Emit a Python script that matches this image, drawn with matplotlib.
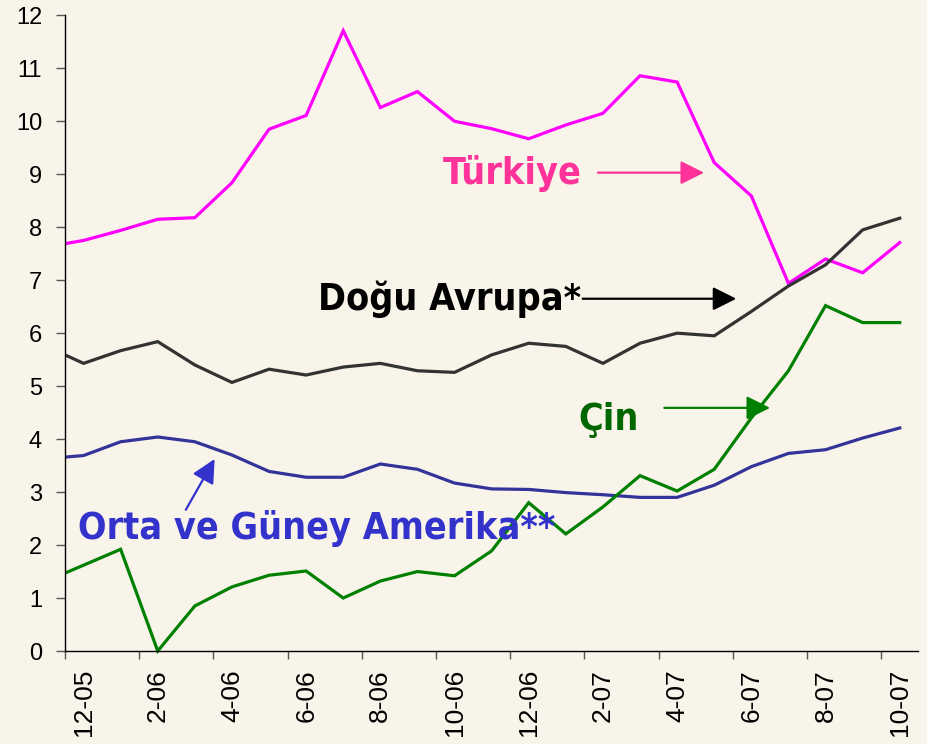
import numpy as np
import matplotlib
matplotlib.use("Agg")
import matplotlib.pyplot as plt
from matplotlib.patches import Rectangle

# monthly values, first entry (11-05) only feeds the clipped segment at the left edge
months = ['11-05', '12-05', '1-06', '2-06', '3-06', '4-06', '5-06', '6-06', '7-06',
          '8-06', '9-06', '10-06', '11-06', '12-06', '1-07', '2-07', '3-07', '4-07',
          '5-07', '6-07', '7-07', '8-07', '9-07', '10-07']

turkiye = [7.63, 7.75, 7.94, 8.15, 8.18, 8.84, 9.85, 10.11, 11.71, 10.26, 10.56, 10.0,
           9.86, 9.67, 9.93, 10.15, 10.86, 10.74, 9.22, 8.59, 6.94, 7.40, 7.14, 7.71]
dogu_avrupa = [5.75, 5.43, 5.67, 5.84, 5.40, 5.07, 5.32, 5.21, 5.36, 5.43, 5.29, 5.26,
               5.59, 5.81, 5.75, 5.43, 5.81, 6.00, 5.95, 6.41, 6.89, 7.29, 7.95, 8.17]
amerika = [3.63, 3.69, 3.95, 4.04, 3.95, 3.70, 3.39, 3.28, 3.28, 3.53, 3.43, 3.17,
           3.06, 3.05, 2.99, 2.95, 2.90, 2.90, 3.13, 3.48, 3.73, 3.80, 4.02, 4.21]
cin = [1.32, 1.62, 1.92, 0.00, 0.85, 1.21, 1.43, 1.51, 1.00, 1.32, 1.50, 1.42,
       1.89, 2.80, 2.21, 2.72, 3.31, 3.02, 3.43, 4.40, 5.29, 6.52, 6.20, 6.20]

bg = '#F9F4E9'
x = np.arange(len(months)) - 1

fig = plt.figure(figsize=(9.27, 7.44), dpi=100, facecolor=bg)
ax = fig.add_axes([0.0701, 0.125, 0.9205, 0.8544])
ax.set_facecolor(bg)

series = [(turkiye, '#FF00FF'), (dogu_avrupa, '#333333'),
          (amerika, '#333399'), (cin, '#008000')]
for vals, col in series:
    line, = ax.plot(x, vals, color=col, lw=2.3, solid_joinstyle='miter')
    # let the line sit on the zero axis without being cut, but still clip at the left edge
    line.set_clip_path(Rectangle((0, -0.02), 1, 1.04, transform=ax.transAxes))

ax.set_xlim(-0.5, 22.5)
ax.set_ylim(0, 12)

for s in ['top', 'right']:
    ax.spines[s].set_visible(False)
for s in ['left', 'bottom']:
    ax.spines[s].set_color('black')
    ax.spines[s].set_linewidth(1.0)

ax.set_yticks(range(0, 13))
ax.set_yticklabels([str(v) for v in range(0, 13)], family='Liberation Sans', size=17)
ax.tick_params(axis='y', direction='out', length=6.5, width=1, color='#555555', pad=10)

ax.set_xticks(x[1::2])
ax.set_xticklabels(months[1::2], rotation=90, family='Liberation Sans', size=19)
ax.set_xticks(np.arange(-0.5, 22, 2), minor=True)
ax.tick_params(axis='x', which='major', length=0, pad=13)
ax.tick_params(axis='x', which='minor', direction='out', length=6, width=1, color='#555555')

lab = dict(family='DejaVu Sans', fontweight='bold', fontstretch='condensed', fontsize=27)
arr = dict(arrowstyle='-|>', lw=1.6, mutation_scale=36)

ax.text(9.69, 8.82, 'Türkiye', color='#FF3399', ha='left', va='baseline', **lab)
ax.annotate('', xy=(16.8, 9.03), xytext=(13.79, 9.03),
            arrowprops=dict(color='#FF3399', **arr))

ax.text(6.32, 6.44, 'Doğu Avrupa*', color='black', ha='left', va='baseline', **lab)
ax.annotate('', xy=(17.67, 6.65), xytext=(13.38, 6.65),
            arrowprops=dict(color='black', **arr))

ax.text(13.33, 4.17, 'Çin', color='#006600', ha='left', va='baseline', **lab)
ax.annotate('', xy=(18.58, 4.59), xytext=(15.58, 4.59),
            arrowprops=dict(color='#008000', **arr))

ax.text(-0.15, 2.11, 'Orta ve Güney Amerika**', color='#3333CC', ha='left', va='baseline', **lab)
ax.annotate('', xy=(3.57, 3.67), xytext=(2.72, 2.62),
            arrowprops=dict(color='#3333CC', **arr))

fig.savefig('out.png', dpi=100, facecolor=bg)
